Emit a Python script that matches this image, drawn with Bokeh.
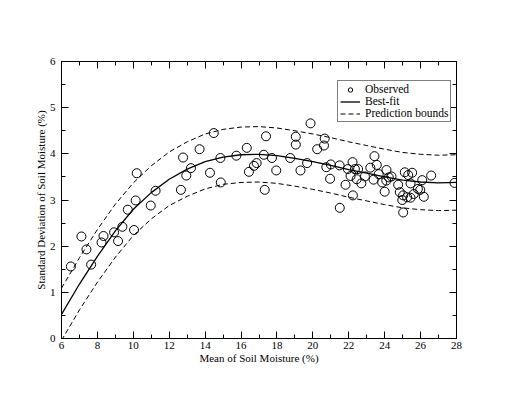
from bokeh.plotting import figure
from bokeh.models import (Range1d, LinearAxis, SingleIntervalTicker, Legend, LegendItem,
                          CustomJSTickFormatter)
from bokeh.embed import file_html
from bokeh.resources import INLINE

# Observed points (mean, std of soil moisture, %)
obs_x = [6.52, 7.11, 7.39, 7.65, 8.23, 8.34, 8.93, 9.15, 9.39, 9.69, 10.04, 10.13, 10.19, 10.97, 11.24,
         12.65, 12.77, 12.95, 13.21, 13.69, 14.27, 14.48, 14.85, 14.87, 15.74, 16.32, 16.44, 16.72, 16.87,
         17.27, 17.39, 17.32, 17.72, 17.96, 18.74, 19.05, 19.05, 19.31, 19.68, 19.87, 20.24, 20.66, 20.62,
         20.75, 20.96, 21.00, 21.49, 21.82, 21.50, 21.95, 22.21, 22.10, 22.23, 22.34, 22.52, 22.44, 22.70,
         22.90, 23.20, 23.43, 23.56, 23.67, 23.38, 24.10, 24.23, 24.38, 23.86, 24.09, 24.00, 24.75, 25.12,
         25.31, 25.53, 25.44, 24.84, 25.03, 24.98, 25.25, 25.44, 25.62, 25.85, 25.98, 26.09, 26.18, 26.59,
         25.03, 27.89]
obs_y = [1.56, 2.21, 1.93, 1.60, 2.08, 2.22, 2.30, 2.11, 2.42, 2.79, 2.35, 2.99, 3.58, 2.88, 3.20,
         3.22, 3.92, 3.53, 3.69, 4.10, 3.59, 4.45, 3.91, 3.38, 3.96, 4.13, 3.61, 3.74, 3.80,
         3.98, 4.38, 3.22, 3.91, 3.64, 3.91, 4.37, 4.20, 3.64, 3.80, 4.66, 4.10, 4.33, 4.18,
         3.71, 3.46, 3.77, 3.75, 3.33, 2.83, 3.67, 3.82, 3.52, 3.10, 3.67, 3.67, 3.45, 3.36,
         3.51, 3.70, 3.95, 3.76, 3.56, 3.44, 3.65, 3.49, 3.51, 3.38, 3.42, 3.18, 3.33, 3.60,
         3.54, 3.59, 3.36, 3.17, 3.10, 3.00, 3.06, 3.05, 3.13, 3.24, 3.22, 3.43, 3.07, 3.53,
         2.73, 3.37]

# Best-fit curve and prediction bounds
fit_x = [6, 7, 8, 9, 10, 11, 12, 13, 14, 15, 16, 17, 18, 19, 20, 21, 22, 23, 24, 25, 26, 27, 28]
fit_y = [0.52, 1.18, 1.78, 2.33, 2.80, 3.16, 3.45, 3.67, 3.83, 3.93, 3.98, 3.99, 3.96, 3.90, 3.83,
         3.75, 3.66, 3.58, 3.50, 3.43, 3.39, 3.37, 3.38]
upper_y = [1.09, 1.75, 2.36, 2.91, 3.37, 3.74, 4.04, 4.26, 4.43, 4.53, 4.58, 4.59, 4.56, 4.50, 4.43,
           4.35, 4.26, 4.18, 4.10, 4.03, 3.99, 3.97, 3.98]
lower_y = [-0.04, 0.62, 1.22, 1.76, 2.23, 2.59, 2.88, 3.08, 3.24, 3.34, 3.38, 3.39, 3.36, 3.30, 3.23,
           3.15, 3.06, 2.98, 2.90, 2.83, 2.79, 2.77, 2.78]

SERIF = "Liberation Serif"

p = figure(width=506, height=390, output_backend="svg", toolbar_location=None,
           x_range=Range1d(6, 28), y_range=Range1d(0, 6),
           min_border_left=61, min_border_right=50, min_border_top=61, min_border_bottom=52,
           x_axis_label="Mean of Soil Moisture (%)",
           y_axis_label="Standard Deviation of Soil Moisture (%)")
p.grid.visible = False
p.outline_line_color = "black"
p.outline_line_width = 1
p.background_fill_color = "white"
p.border_fill_color = "white"

p.xaxis.ticker = SingleIntervalTicker(interval=2, num_minor_ticks=2)
p.yaxis.ticker = SingleIntervalTicker(interval=1, num_minor_ticks=2)


def style(ax):
    ax.axis_line_color = "black"
    ax.major_tick_line_color = "black"
    ax.minor_tick_line_color = "black"
    ax.major_tick_in = 7
    ax.major_tick_out = 0
    ax.minor_tick_in = 4
    ax.minor_tick_out = 0
    ax.major_label_text_font = SERIF
    ax.major_label_text_font_size = "11px"
    ax.major_label_text_color = "black"
    ax.axis_label_text_font = SERIF
    ax.axis_label_text_font_size = "11px"
    ax.axis_label_text_font_style = "normal"
    ax.axis_label_text_color = "black"


for ax in p.xaxis + p.yaxis:
    style(ax)
p.xaxis.major_label_standoff = 3
p.xaxis.axis_label_standoff = 0
p.yaxis.major_label_standoff = 6
p.yaxis.axis_label_standoff = 0

blank = CustomJSTickFormatter(code="return ''")
top = LinearAxis(ticker=SingleIntervalTicker(interval=2, num_minor_ticks=2), formatter=blank)
right = LinearAxis(ticker=SingleIntervalTicker(interval=1, num_minor_ticks=2), formatter=blank)
for ax in (top, right):
    style(ax)
    ax.major_label_standoff = 0
p.add_layout(top, "above")
p.add_layout(right, "right")

lo = p.line(fit_x, lower_y, line_color="black", line_width=1, line_dash="5 3")
up = p.line(fit_x, upper_y, line_color="black", line_width=1, line_dash="5 3")
fit = p.line(fit_x, fit_y, line_color="black", line_width=1.3)
sc = p.scatter(obs_x, obs_y, marker="circle", size=9, fill_color=None,
               line_color="black", line_width=1)

legend = Legend(items=[
    LegendItem(label="Observed", renderers=[sc]),
    LegendItem(label="Best-fit", renderers=[fit]),
    LegendItem(label="Prediction bounds", renderers=[up]),
], location=(276, 216))
legend.label_text_font = SERIF
legend.label_text_font_size = "11.5px"
legend.label_text_color = "black"
legend.glyph_width = 20
legend.glyph_height = 11
legend.label_height = 11
legend.spacing = 0
legend.padding = 2
legend.margin = 0
legend.label_standoff = 5
legend.border_line_color = "black"
legend.border_line_width = 1
legend.background_fill_color = "white"
legend.background_fill_alpha = 1
p.add_layout(legend)

open("out.html", "w").write(file_html(p, INLINE))
